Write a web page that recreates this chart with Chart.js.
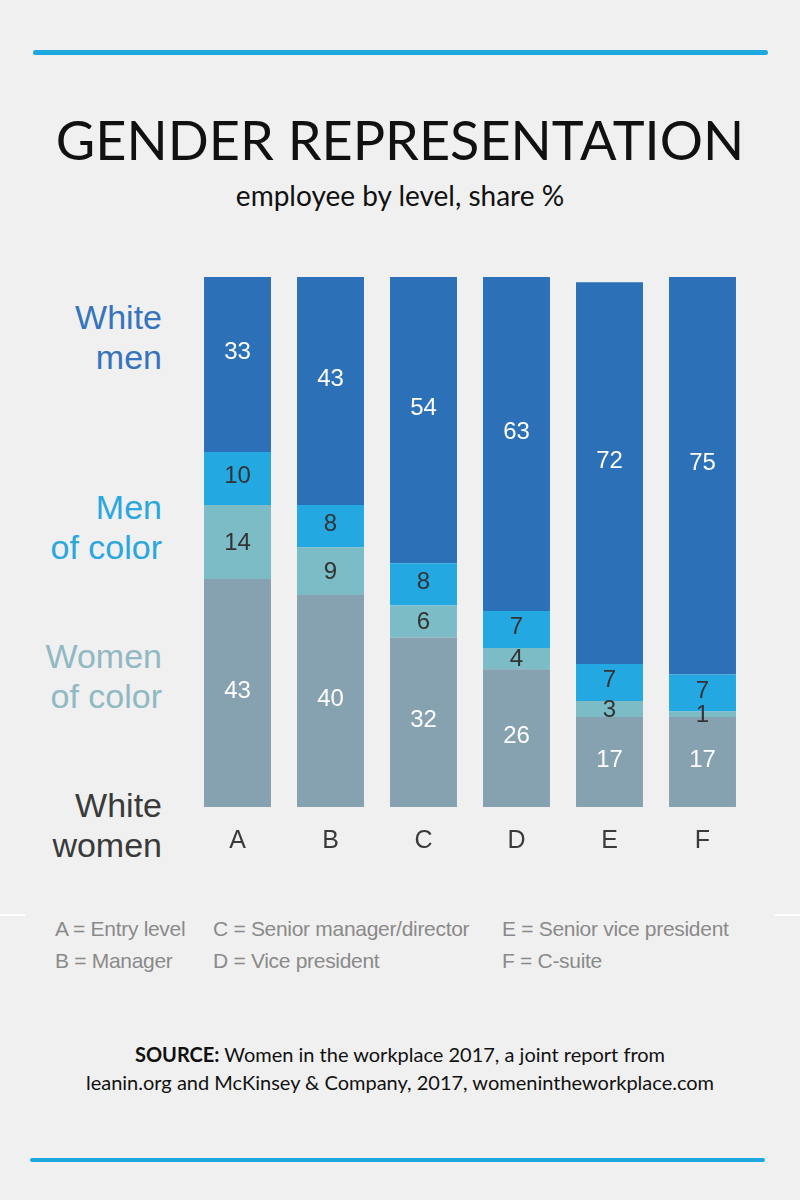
<!DOCTYPE html>
<html>
<head>
<meta charset="utf-8">
<script src="https://cdn.jsdelivr.net/npm/chart.js@4"></script>
<style>
  html, body { margin: 0; padding: 0; }
  body { width: 800px; height: 1200px; background: #f0f0f0; position: relative; overflow: hidden; font-family: Lato, sans-serif; }
  .rule { position: absolute; height: 5px; background: #1ea8e0; border-radius: 3px; }
  #title { position: absolute; top: 107px; left: 0; width: 800px; text-align: center; font-size: 54px; color: #111; }
  #subtitle { position: absolute; top: 178px; left: 0; width: 800px; text-align: center; font-size: 28px; color: #111; }
  #chartBox { position: absolute; left: 0; top: 240px; width: 800px; height: 660px; }
  .side { position: absolute; right: 638px; text-align: right; font-family: "Liberation Sans", Arial, sans-serif; font-size: 34px; line-height: 40px; letter-spacing: 0; }
  .key { position: absolute; font-family: "Liberation Sans", Arial, sans-serif; font-size: 21px; color: #8a8a8a; letter-spacing: -0.3px; white-space: nowrap; }
  #source { position: absolute; top: 1040px; left: 0; width: 800px; text-align: center; font-size: 20px; line-height: 28px; color: #111; }
  .nick { position: absolute; top: 914px; height: 2px; width: 25px; background: #ffffff; }
</style>
</head>
<body>
<div class="rule" style="left:33px; top:50px; width:735px;"></div>
<div id="title">GENDER REPRESENTATION</div>
<div id="subtitle">employee by level, share %</div>

<div class="side" style="top:297px; color:#3674bd;">White<br>men</div>
<div class="side" style="top:487px; color:#2aa7df;">Men<br>of color</div>
<div class="side" style="top:636px; color:#90b9c3;">Women<br>of color</div>
<div class="side" style="top:785px; color:#3a3a3a;">White<br>women</div>

<div id="chartBox"><canvas id="chart"></canvas></div>

<div class="nick" style="left:0;"></div>
<div class="nick" style="left:775px;"></div>
<div class="key" style="left:55px; top:917px;">A = Entry level</div>
<div class="key" style="left:55px; top:949px;">B = Manager</div>
<div class="key" style="left:213px; top:917px;">C = Senior manager/director</div>
<div class="key" style="left:213px; top:949px;">D = Vice president</div>
<div class="key" style="left:502px; top:917px;">E = Senior vice president</div>
<div class="key" style="left:502px; top:949px;">F = C-suite</div>

<div id="source"><b>SOURCE:</b> Women in the workplace 2017, a joint report from<br>leanin.org and McKinsey &amp; Company, 2017, womenintheworkplace.com</div>
<div class="rule" style="left:30px; top:1158px; width:735px; height:4px;"></div>

<script>
const levels = ['A', 'B', 'C', 'D', 'E', 'F'];
const whiteWomen = [43, 40, 32, 26, 17, 17];
const womenOfColor = [14, 9, 6, 4, 3, 1];
const menOfColor = [10, 8, 8, 7, 7, 7];
const whiteMen = [33, 43, 54, 63, 72, 75];

// numbers written inside each segment
const segmentLabels = {
  id: 'segmentLabels',
  afterDatasetsDraw(chart) {
    const ctx = chart.ctx;
    ctx.save();
    ctx.font = '24px "Liberation Sans", Arial, sans-serif';
    ctx.textAlign = 'center';
    ctx.textBaseline = 'middle';
    chart.data.datasets.forEach((ds, i) => {
      const meta = chart.getDatasetMeta(i);
      ctx.fillStyle = ds.labelColor;
      meta.data.forEach((bar, j) => {
        const mid = (bar.y + bar.base) / 2;
        ctx.fillText(ds.data[j], bar.x, mid + ds.labelShift);
      });
    });
    ctx.restore();
  }
};

new Chart(document.getElementById('chart'), {
  type: 'bar',
  data: {
    labels: levels,
    datasets: [
      { label: 'White women', data: whiteWomen, backgroundColor: '#86a1b0', labelColor: '#ffffff', labelShift: -2 },
      { label: 'Women of color', data: womenOfColor, backgroundColor: '#7bbcc7', labelColor: '#333333', labelShift: 1 },
      { label: 'Men of color', data: menOfColor, backgroundColor: '#23a8e1', labelColor: '#333333', labelShift: -2 },
      { label: 'White men', data: whiteMen, backgroundColor: '#2c70b8', labelColor: '#ffffff', labelShift: -12 }
    ]
  },
  options: {
    responsive: true,
    maintainAspectRatio: false,
    animation: false,
    layout: { padding: { left: 191, right: 51, top: 37, bottom: 33 } },
    datasets: { bar: { categoryPercentage: 1, barPercentage: 0.72 } },
    plugins: { legend: { display: false }, tooltip: { enabled: false } },
    scales: {
      x: {
        stacked: true,
        grid: { display: false },
        border: { display: false },
        ticks: { color: '#3a3a3a', padding: 11, font: { family: '"Liberation Sans", Arial, sans-serif', size: 25 } }
      },
      y: { stacked: true, display: false, min: 0, max: 100 }
    }
  },
  plugins: [segmentLabels]
});
</script>
</body>
</html>
